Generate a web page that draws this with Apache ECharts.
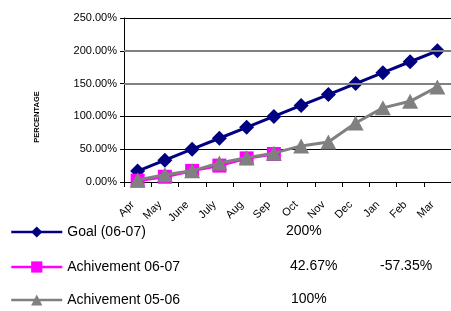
<!DOCTYPE html>
<html>
<head>
<meta charset="utf-8">
<script src="https://cdn.jsdelivr.net/npm/echarts@6/dist/echarts.min.js"></script>
<style>html,body{margin:0;padding:0;background:#fff}#c{width:451px;height:311px}</style>
</head>
<body>
<div id="c"></div>
<script>
var months = ['Apr','May','June','July','Aug','Sep','Oct','Nov','Dec','Jan','Feb','Mar'];
var goal0607 = [16.67,33.33,50,66.67,83.33,100,116.67,133.33,150,166.67,183.33,200];
var ach0607 = [2,8,17,25,36,42.67];
var ach0506 = [3,11,17,29,37,44,55,61,90,113,123,145];
var seriesNames = ['Goal (06-07)','Achivement 06-07','Achivement 05-06'];
var yTicks = [0,50,100,150,200,250];
var tableRow1 = ['200%'];
var tableRow2 = ['42.67%','-57.35%'];
var tableRow3 = ['100%'];

var chart = echarts.init(document.getElementById('c'), null, {renderer:'canvas'});
var font = 'Arial, "Liberation Sans", sans-serif';
function txt(s, x, y){
  return {type:'text', left:x, top:y-8, style:{text:s, font:'14px '+font, fill:'#000'}};
}
var rowY = [232, 267, 300];
var legends = seriesNames.map(function(n, i){
  return {orient:'horizontal', left:10, top:rowY[i]-7, padding:0, itemWidth:51, itemHeight:14,
    lineStyle:{width:2.5},
    textStyle:{fontFamily:font, fontSize:14, color:'#000'}, data:[n]};
});
chart.setOption({
  animation:false,
  grid:{left:124, top:18, width:328, height:164},
  legend:legends,
  xAxis:{
    type:'category', data:months, boundaryGap:true,
    axisLine:{lineStyle:{color:'#000', width:1}},
    axisTick:{show:true, length:5, lineStyle:{color:'#000'}},
    axisLabel:{rotate:45, fontFamily:font, fontSize:11, color:'#000', margin:16, padding:[0,7,0,0], interval:0}
  },
  yAxis:{
    type:'value', min:0, max:250, interval:50,
    axisLine:{show:true, lineStyle:{color:'#000', width:1}},
    axisTick:{show:true, length:4, lineStyle:{color:'#000'}},
    axisLabel:{fontFamily:font, fontSize:11, color:'#000', margin:7,
      formatter:function(v){return v.toFixed(2)+'%';}},
    splitLine:{show:true, lineStyle:{color:['#000','#000','#000','#808080','#808080','#000'], width:1}}
  },
  graphic:[
    {type:'text', x:37, y:117, rotation:Math.PI/2,
     style:{text:'PERCENTAGE', font:'bold 7.5px '+font, fill:'#000', textAlign:'center', textVerticalAlign:'middle'}},
    txt(tableRow1[0], 286, rowY[0]),
    txt(tableRow2[0], 290, rowY[1]),
    txt(tableRow2[1], 380, rowY[1]),
    txt(tableRow3[0], 291, rowY[2])
  ],
  series:[
    {type:'line', data:[], z:1, silent:true,
     markLine:{silent:true, symbol:'none', label:{show:false},
       lineStyle:{color:'#808080', width:2, type:'solid'},
       data:[{yAxis:yTicks[3]},{yAxis:yTicks[4]}]}},
    {name:seriesNames[0], type:'line', data:goal0607, symbol:'diamond', symbolSize:15,
     lineStyle:{color:'#000080', width:3}, itemStyle:{color:'#000080'}, z:3},
    {name:seriesNames[1], type:'line', data:ach0607, symbol:'rect', symbolSize:14,
     lineStyle:{color:'#FF00FF', width:3}, itemStyle:{color:'#FF00FF'}, z:4},
    {name:seriesNames[2], type:'line', data:ach0506, symbol:'triangle', symbolSize:[16,15],
     lineStyle:{color:'#808080', width:3}, itemStyle:{color:'#808080'}, z:5}
  ]
});
</script>
</body>
</html>
